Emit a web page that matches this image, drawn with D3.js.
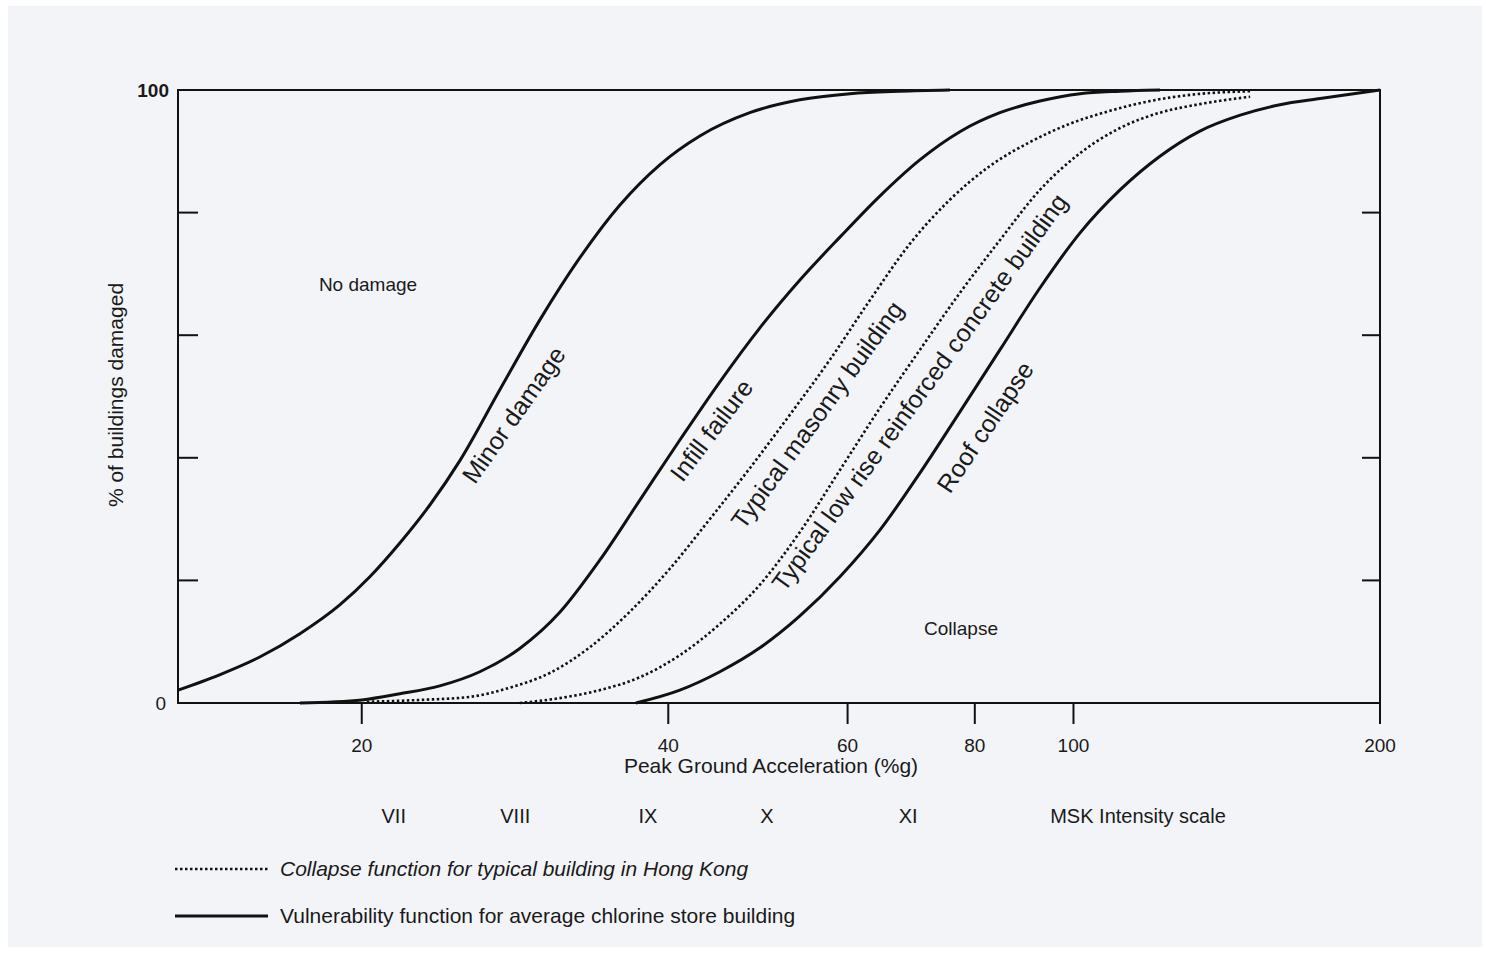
<!DOCTYPE html>
<html>
<head>
<meta charset="utf-8">
<script src="https://cdn.jsdelivr.net/npm/d3@7"></script>
<style>
  body { margin: 0; background: #fff; }
  text { font-family: "Liberation Sans", Arial, sans-serif; fill: #1a1a1a; }
</style>
</head>
<body>
<script>
// curves, x in %g (log axis), y in % of buildings damaged
var minorDamage = [[13.2,2.1],[14.5,4.6],[15.88,7.5],[17.39,11.3],[19.03,16],[20.37,20.6],[21.8,26.1],[23.33,32.3],[24.96,39.5],[27.33,51.1],[29.92,62.5],[32.74,72.6],[35.84,81.2],[39.24,87.8],[42.96,92.5],[48.1,96.3],[53.87,98.4],[60.33,99.4],[67.53,99.8],[75.62,100]];
var infillFailure = [[17.39,0],[20,0.5],[21.8,1.5],[23.86,2.8],[26.12,5.1],[28.59,8.9],[31.3,14.8],[34.26,23.3],[37.51,33.1],[41.06,42.9],[44.95,52.4],[49.21,61.2],[53.87,69],[58.97,76],[64.54,82.7],[70.65,88.6],[77.35,93.2],[84.67,96.3],[92.69,98.2],[101.5,99.4],[111.1,99.8],[121.6,100]];
var masonry = [[20.23,0.2],[22.81,0.5],[25.53,1],[27.95,2.5],[30.6,4.9],[33.5,9.1],[36.67,14.9],[40.14,21.9],[43.94,30],[48.1,38.3],[52.65,47],[57.65,56],[63.1,65.7],[69.07,74.9],[75.62,82.1],[82.78,87.6],[90.63,91.5],[99.22,94.5],[108.6,96.6],[118.9,98.2],[130.1,99.2],[149.1,99.8]];
var rcBuilding = [[28.59,0],[31.3,0.8],[34.26,2.1],[37.51,4.2],[41.06,7.8],[44.95,12.9],[49.21,19.3],[53.87,27.9],[58.97,38],[64.54,48.1],[70.65,57.6],[77.35,66.9],[84.67,75.5],[92.69,83.7],[101.5,89.7],[111.1,93.8],[121.6,96.3],[133.1,97.7],[149.1,98.9]];
var roofCollapse = [[37.17,0],[41.06,2.1],[44.95,5.1],[49.21,9],[53.87,14.2],[58.97,20.6],[64.54,28.2],[70.65,37.5],[77.35,47.5],[84.67,57.6],[92.69,67.7],[101.5,76.7],[111.1,83.7],[121.6,89.2],[133.1,93.3],[145.8,95.9],[159.5,97.6],[174.7,98.6],[200,100]];

var series = [
  {name: 'Minor damage', pts: minorDamage, dotted: false},
  {name: 'Infill failure', pts: infillFailure, dotted: false},
  {name: 'Typical masonry building', pts: masonry, dotted: true},
  {name: 'Typical low rise reinforced concrete building', pts: rcBuilding, dotted: true},
  {name: 'Roof collapse', pts: roofCollapse, dotted: false}
];

// curve labels: centre in data units, rotation
var curveLabels = [
  {text: 'Minor damage', x: 28.2, y: 47, rot: -55},
  {text: 'Infill failure', x: 44.1, y: 44.5, rot: -53},
  {text: 'Typical masonry building', x: 56.0, y: 47, rot: -54},
  {text: 'Typical low rise reinforced concrete building', x: 70.6, y: 50.7, rot: -54},
  {text: 'Roof collapse', x: 81.9, y: 45, rot: -56}
];

var xTicks = [20, 40, 60, 80, 100, 200];
var yTicks = [0, 20, 40, 60, 80, 100];
var mskLabels = [['VII', 21.5], ['VIII', 28.3], ['IX', 38.2], ['X', 50.0], ['XI', 68.8]];

var width  = 1486,
    height = 953;

var svg = d3.select('body').append('svg')
    .attr('width', width)
    .attr('height', height);

// scanned page tint
svg.append('rect')
    .attr('x', 8).attr('y', 6)
    .attr('width', width - 12).attr('height', height - 12)
    .attr('fill', '#f3f4f8');

var x = d3.scaleLog().domain([13.2, 200]).range([178, 1380]);
var y = d3.scaleLinear().domain([0, 100]).range([703, 90]);

var frame = svg.append('g')
    .attr('stroke', '#111')
    .attr('stroke-width', 2)
    .attr('fill', 'none');

frame.append('rect')
    .attr('x', x.range()[0]).attr('y', y(100))
    .attr('width', x.range()[1] - x.range()[0])
    .attr('height', y(0) - y(100));

// y ticks, inward on both sides
yTicks.slice(1, -1).forEach(function(t) {
  frame.append('line')
      .attr('x1', x.range()[0]).attr('x2', x.range()[0] + 20)
      .attr('y1', y(t)).attr('y2', y(t));
  frame.append('line')
      .attr('x1', x.range()[1]).attr('x2', x.range()[1] - 18)
      .attr('y1', y(t)).attr('y2', y(t));
});

// x ticks, outward
xTicks.forEach(function(t) {
  frame.append('line')
      .attr('x1', x(t)).attr('x2', x(t))
      .attr('y1', y(0)).attr('y2', y(0) + 21);
  svg.append('text')
      .attr('x', x(t)).attr('y', y(0) + 49)
      .attr('text-anchor', 'middle')
      .attr('font-size', 19)
      .text(t);
});

svg.append('text')
    .attr('x', 169).attr('y', y(100) + 7)
    .attr('text-anchor', 'end')
    .attr('font-size', 19).attr('font-weight', 'bold')
    .text('100');
svg.append('text')
    .attr('x', 166).attr('y', y(0) + 7)
    .attr('text-anchor', 'end')
    .attr('font-size', 19)
    .text('0');

svg.append('text')
    .attr('transform', 'translate(123,395) rotate(-90)')
    .attr('text-anchor', 'middle')
    .attr('font-size', 21)
    .text('% of buildings damaged');

svg.append('text')
    .attr('x', 771).attr('y', 773)
    .attr('text-anchor', 'middle')
    .attr('font-size', 21)
    .text('Peak Ground Acceleration (%g)');

mskLabels.forEach(function(m) {
  svg.append('text')
      .attr('x', x(m[1])).attr('y', 823)
      .attr('text-anchor', 'middle')
      .attr('font-size', 20)
      .text(m[0]);
});
svg.append('text')
    .attr('x', 1138).attr('y', 823)
    .attr('text-anchor', 'middle')
    .attr('font-size', 20)
    .text('MSK Intensity scale');

var line = d3.line()
    .x(function(d) {return x(d[0]);})
    .y(function(d) {return y(d[1]);})
    .curve(d3.curveMonotoneX);

svg.selectAll('path.curve')
    .data(series)
  .enter().append('path')
    .attr('class', 'curve')
    .attr('d', function(d) {return line(d.pts);})
    .attr('fill', 'none')
    .attr('stroke', '#111')
    .attr('stroke-width', function(d) {return d.dotted ? 2.6 : 3;})
    .attr('stroke-dasharray', function(d) {return d.dotted ? '2.5,2.5' : null;});

svg.selectAll('text.curveLabel')
    .data(curveLabels)
  .enter().append('text')
    .attr('class', 'curveLabel')
    .attr('transform', function(d) {
      return 'translate(' + x(d.x) + ',' + y(d.y) + ') rotate(' + d.rot + ')';
    })
    .attr('text-anchor', 'middle')
    .attr('dy', '0.35em')
    .attr('font-size', 25)
    .text(function(d) {return d.text;});

svg.append('text')
    .attr('x', 368).attr('y', 291)
    .attr('text-anchor', 'middle')
    .attr('font-size', 19)
    .text('No damage');

svg.append('text')
    .attr('x', 961).attr('y', 635)
    .attr('text-anchor', 'middle')
    .attr('font-size', 19)
    .text('Collapse');

// legend
var legend = [
  {text: 'Collapse function for typical building in Hong Kong', dotted: true, y: 869},
  {text: 'Vulnerability function for average chlorine store building', dotted: false, y: 916}
];
legend.forEach(function(l) {
  svg.append('line')
      .attr('x1', 175).attr('x2', 268)
      .attr('y1', l.y).attr('y2', l.y)
      .attr('stroke', '#111')
      .attr('stroke-width', l.dotted ? 2.6 : 3)
      .attr('stroke-dasharray', l.dotted ? '2.5,2.5' : null);
  svg.append('text')
      .attr('x', 280).attr('y', l.y + 7)
      .attr('font-size', 21)
      .attr('font-style', l.dotted ? 'italic' : null)
      .text(l.text);
});
</script>
</body>
</html>
